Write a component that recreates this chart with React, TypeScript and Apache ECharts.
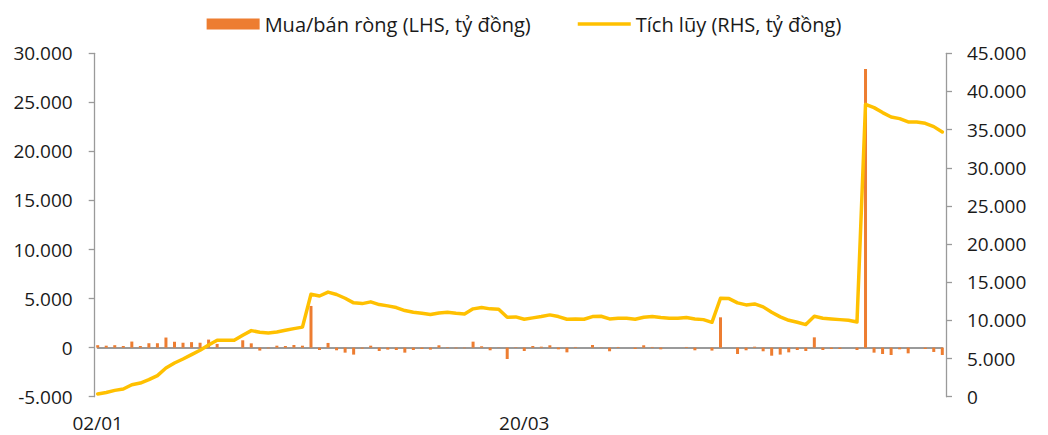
import React, { useEffect, useRef } from "react";
import * as echarts from "echarts";

// Trading-day categories (dd/mm)
const dates: string[] = [
  "02/01","03/01","06/01","07/01","08/01","09/01","10/01","13/01","14/01","15/01",
  "16/01","17/01","20/01","21/01","22/01","23/01","24/01","03/02","04/02","05/02",
  "06/02","07/02","10/02","11/02","12/02","13/02","14/02","17/02","18/02","19/02",
  "20/02","21/02","24/02","25/02","26/02","27/02","28/02","03/03","04/03","05/03",
  "06/03","07/03","10/03","11/03","12/03","13/03","14/03","17/03","18/03","19/03",
  "20/03","21/03","24/03","25/03","26/03","27/03","28/03","31/03","01/04","02/04",
  "03/04","04/04","08/04","09/04","10/04","11/04","14/04","15/04","16/04","17/04",
  "18/04","21/04","22/04","23/04","24/04","25/04","28/04","29/04","02/05","05/05",
  "06/05","07/05","08/05","09/05","12/05","13/05","14/05","15/05","16/05","19/05",
  "20/05","21/05","22/05","23/05","26/05","27/05","28/05","29/05","30/05","02/06",
];

// Net buy/sell (LHS, bn VND)
const netFlow: number[] = [
  250, 200, 250, 170, 620, 170, 450, 450, 1030, 600,
  500, 560, 500, 820, 380, 0, 0, 750, 440, -300,
  -70, 200, 170, 270, 200, 4250, -240, 480, -270, -510,
  -710, -100, 200, -340, -200, -240, -510, -240, -140, -200,
  240, 50, -70, -60, 610, 140, -270, -30, -1160, 50,
  -340, 170, 100, 240, -170, -480, 70, 0, 270, 30,
  -370, 70, 0, -140, 240, 70, -170, 0, 0, 70,
  -270, 0, -300, 3090, 0, -650, -270, 100, -370, -820,
  -710, -480, -240, -340, 1050, -240, -140, -140, 0, -240,
  28400, -510, -650, -750, -170, -580, 0, -140, -440, -750,
];

// Cumulative (RHS, bn VND)
const cumulative: number[] = [
  350, 560, 830, 1010, 1570, 1790, 2230, 2760, 3760, 4420,
  4940, 5510, 6080, 6780, 7390, 7390, 7390, 8050, 8660, 8440,
  8360, 8490, 8700, 8920, 9120, 13430, 13200, 13710, 13390, 12900,
  12300, 12200, 12430, 12070, 11900, 11680, 11290, 11060, 10930, 10760,
  10980, 11060, 10930, 10850, 11510, 11680, 11510, 11460, 10410, 10460,
  10150, 10330, 10500, 10720, 10500, 10150, 10190, 10150, 10500, 10540,
  10190, 10280, 10280, 10150, 10410, 10500, 10370, 10280, 10280, 10370,
  10190, 10100, 9750, 12900, 12860, 12300, 12030, 12160, 11770, 11060,
  10460, 10010, 9750, 9450, 10540, 10280, 10190, 10100, 10010, 9780,
  38320, 37880, 37230, 36660, 36440, 36000, 36000, 35830, 35390, 34690,
];

const barName = "Mua/bán ròng (LHS, tỷ đồng)";
const lineName = "Tích lũy (RHS, tỷ đồng)";

const fmt = (v: number): string => {
  const s = String(Math.abs(Math.round(v))).replace(/\B(?=(\d{3})+(?!\d))/g, ".");
  return v < 0 ? "-" + s : s;
};

const FONT = "'Open Sans', 'Noto Sans', sans-serif";
const AXIS_GRAY = "#9a9a9a";
const BAR_COLOR = "#ED7D31";
const LINE_COLOR = "#FFC000";

export default function App() {
  const ref = useRef<HTMLDivElement>(null);

  useEffect(() => {
    if (!ref.current) return;
    const chart = echarts.init(ref.current, undefined, { renderer: "svg" });
    chart.setOption({
      animation: false,
      backgroundColor: "#ffffff",
      textStyle: { fontFamily: FONT },
      legend: {
        top: 9,
        left: "center",
        itemWidth: 53,
        itemHeight: 11,
        itemGap: 47,
        symbolKeepAspect: true,
        textStyle: { fontFamily: FONT, fontSize: 20, color: "#1a1a1a" },
        data: [
          { name: barName, icon: "rect", itemStyle: { color: BAR_COLOR } },
          {
            name: lineName,
            icon: "path://M0 0H54V3.5H0Z",
            itemStyle: { color: LINE_COLOR, borderWidth: 0 },
          },
        ],
      },
      grid: { left: 97.7, right: 105.7, top: 53.3, bottom: 38.3, containLabel: false },
      xAxis: [
        {
          type: "category",
          data: dates,
          boundaryGap: false,
          axisLine: { show: false },
          axisTick: { show: false },
          axisLabel: {
            interval: 49,
            margin: 16,
            lineHeight: 20,
            fontFamily: FONT,
            fontSize: 19,
            color: "#1a1a1a",
          },
          splitLine: { show: false },
        },
        {
          type: "category",
          data: dates,
          boundaryGap: false,
          position: "bottom",
          axisLine: { show: true, onZero: true, onZeroAxisIndex: 0, lineStyle: { color: AXIS_GRAY, width: 2 } },
          axisTick: { show: false },
          axisLabel: { show: false },
          splitLine: { show: false },
        },
      ],
      yAxis: [
        {
          type: "value",
          min: -5000,
          max: 30000,
          interval: 5000,
          position: "left",
          offset: 3,
          axisLine: { show: true, lineStyle: { color: AXIS_GRAY, width: 1.3 } },
          axisTick: { show: true, length: 6, lineStyle: { color: AXIS_GRAY, width: 1.3 } },
          axisLabel: { formatter: fmt, margin: 22, fontFamily: FONT, fontSize: 19, color: "#1a1a1a" },
          splitLine: { show: false },
        },
        {
          type: "value",
          min: 0,
          max: 45000,
          interval: 5000,
          position: "right",
          offset: 3.7,
          axisLine: { show: true, lineStyle: { color: AXIS_GRAY, width: 1.3 } },
          axisTick: { show: true, length: 6, lineStyle: { color: AXIS_GRAY, width: 1.3 } },
          axisLabel: { formatter: fmt, margin: 21, fontFamily: FONT, fontSize: 19, color: "#1a1a1a" },
          splitLine: { show: false },
        },
      ],
      series: [
        {
          name: barName,
          type: "bar",
          xAxisIndex: 0,
          yAxisIndex: 0,
          data: netFlow,
          barWidth: 3,
          itemStyle: { color: BAR_COLOR },
          z: 2,
        },
        {
          name: lineName,
          type: "line",
          xAxisIndex: 0,
          yAxisIndex: 1,
          data: cumulative,
          symbol: "none",
          showSymbol: false,
          smooth: false,
          lineStyle: { color: LINE_COLOR, width: 3.5, join: "round", cap: "round" },
          itemStyle: { color: LINE_COLOR },
          z: 5,
        },
      ],
    });
    return () => chart.dispose();
  }, []);

  return (
    <div
      ref={ref}
      style={{ position: "absolute", left: 0, top: 0, width: 1048, height: 435, background: "#fff" }}
    />
  );
}
